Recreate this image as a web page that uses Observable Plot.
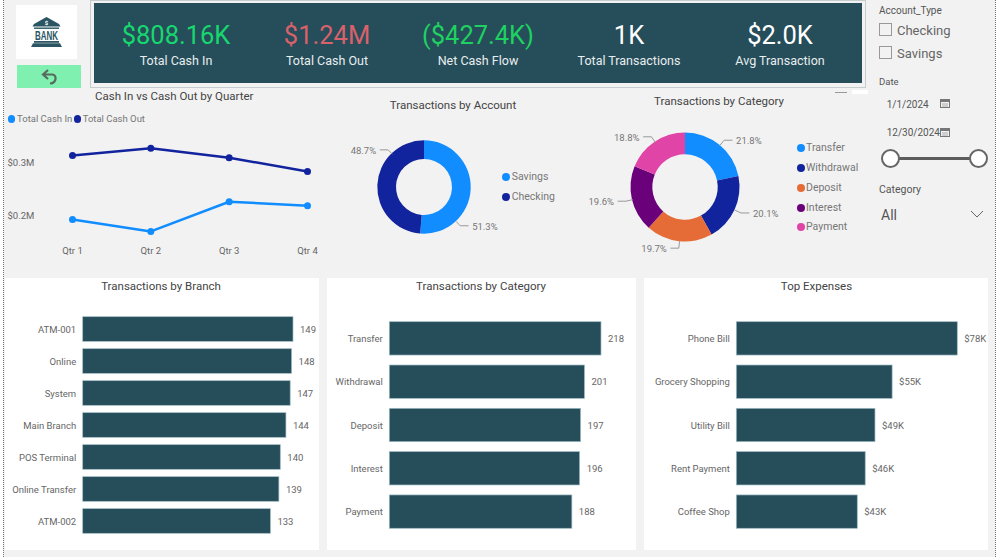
<!DOCTYPE html>
<html><head><meta charset="utf-8">
<script src="https://cdn.jsdelivr.net/npm/d3@7"></script>
<script src="https://cdn.jsdelivr.net/npm/@observablehq/plot@0.6"></script>
<style>
html,body{margin:0;padding:0;background:#fff;}
#page{position:relative;width:1000px;height:557px;overflow:hidden;font-family:Roboto,sans-serif;}
#bg{position:absolute;left:3px;top:0;width:993px;height:557px;background:#f2f2f2;border-left:1px dotted #777;border-right:1px dotted #777;box-sizing:border-box;}
.b{position:absolute;}
.t{position:absolute;white-space:nowrap;line-height:1;}
.p{position:absolute;}
.p svg{display:block;background:transparent;overflow:visible;}
</style></head><body><div id="page"><div id="bg"></div></div>
<script>
// ---- data ----
const kpiValues=["$808.16K","$1.24M","($427.4K)","1K","$2.0K"];
const kpiLabels=["Total Cash In","Total Cash Out","Net Cash Flow","Total Transactions","Avg Transaction"];
const kpiColors=["#17d86f","#d9616b","#1fd160","#ffffff","#ffffff"];
const quarters=["Qtr 1","Qtr 2","Qtr 3","Qtr 4"];
const cashIn=[0.1925,0.170,0.226,0.2185];
const cashOut=[0.313,0.327,0.309,0.283];
const accounts=["Savings","Checking"];
const accountShare=[51.3,48.7];
const accountColors=["#118DFF","#12239E"];
const categories=["Transfer","Withdrawal","Deposit","Interest","Payment"];
const categoryShare=[21.8,20.1,19.7,19.6,18.8];
const categoryColors=["#118DFF","#12239E","#E66C37","#6B007B","#E044A7"];
const branches=["ATM-001","Online","System","Main Branch","POS Terminal","Online Transfer","ATM-002"];
const branchCounts=[149,148,147,144,140,139,133];
const categoryCounts=[218,201,197,196,188];
const expenses=["Phone Bill","Grocery Shopping","Utility Bill","Rent Payment","Coffee Shop"];
const expenseValues=[78,55,48.95,45.5,42.7];

// ---- helpers ----
const FONT='Roboto,sans-serif';
const page=document.getElementById("page");
const BAR="#264d5a";
function box(x,y,w,h,style={}){const d=document.createElement("div");d.className="b";Object.assign(d.style,{left:x+"px",top:y+"px",width:w+"px",height:h+"px"},style);page.appendChild(d);return d;}
function text(x,y,s,size,color,anchor="start",extra={}){const d=document.createElement("div");d.className="t";d.textContent=s;
 const tx=anchor==="middle"?"-50%":anchor==="end"?"-100%":"0";
 Object.assign(d.style,{left:x+"px",top:y+"px",fontSize:size+"px",color,transform:`translate(${tx},-50%)`},extra);page.appendChild(d);return d;}
function place(x,y,node){const d=document.createElement("div");d.className="p";d.style.left=x+"px";d.style.top=y+"px";d.appendChild(node);page.appendChild(d);}
function svgBox(x,y,w,h,inner){const d=document.createElement("div");d.className="b";d.style.left=x+"px";d.style.top=y+"px";
 d.innerHTML=`<svg width="${w}" height="${h}" viewBox="0 0 ${w} ${h}" style="display:block;overflow:visible">${inner}</svg>`;page.appendChild(d);}

// ---- logo and back button ----
box(16,5,61,54,{background:"#fff"});
svgBox(16,5,61,54,`<g fill="#2b5563"><path d="M30.500 12 L43 19 L44.500 21.500 L16.500 21.500 L18 19Z"/><rect x="18" y="22.500" width="25" height="1.400"/><rect x="18" y="36" width="25" height="1.800"/><path d="M17 38.200h27l2 3.800h-31z"/></g>
<text x="30.500" y="35" text-anchor="middle" font-family="Liberation Sans Narrow, Liberation Sans, sans-serif" font-weight="700" font-size="13.500" textLength="23" lengthAdjust="spacingAndGlyphs" fill="#2b5563">BANK</text><text x="30.500" y="20" text-anchor="middle" font-size="6" font-weight="700" fill="#fff">$</text>`);
box(17,65,64,23,{background:"#7ff0b0"});
svgBox(17,65,64,23,`<path d="M31 5 L26 9.500 L31 14 M26.500 9.500 H35 Q39 10 38.500 14 Q38 18 33 18.500" fill="none" stroke="#566b5e" stroke-width="2.200"/>`);

// ---- KPI band ----
box(90,0,776,88,{border:"1px solid #c6cdcd",boxSizing:"border-box"});
box(94,3,768,80,{background:"#264d5a"});
const kpiCenters=[176,327,478,629,780];
kpiValues.forEach((v,i)=>{text(kpiCenters[i],36,v,25.5,kpiColors[i],"middle");text(kpiCenters[i],61,kpiLabels[i],12.5,"#e8eeef","middle");});
box(852,90,16,4,{background:"#fff"});
box(835,91.500,12,1,{background:"#999"});

// ---- titles ----
const TITLE="#444";
text(95,96.500,"Cash In vs Cash Out by Quarter",11.5,TITLE);
text(453,106,"Transactions by Account",11.5,TITLE,"middle");
text(719,101.500,"Transactions by Category",11.5,TITLE,"middle");

// ---- line chart ----
const lineRows=quarters.flatMap((q,i)=>[{q,v:cashIn[i],s:"Total Cash In"},{q,v:cashOut[i],s:"Total Cash Out"}]);
const seriesNames=["Total Cash In","Total Cash Out"];
place(0,130,Plot.plot({
 width:340,height:130,marginLeft:72,marginRight:33,marginTop:5.5,marginBottom:18.5,
 style:{fontFamily:FONT,fontSize:"9.5px",background:"transparent"},
 x:{type:"point",domain:quarters,padding:0,round:false,label:null},
 y:{domain:[0.15,0.35],label:null},
 color:{domain:seriesNames,range:accountColors},
 marks:[
  Plot.axisY({ticks:[0.2,0.3],tickFormat:d=>`$${d.toFixed(1)}M`,tickSize:0,tickPadding:65,textAnchor:"start",color:"#666",label:null}),
  Plot.axisX({tickSize:0,tickPadding:5,color:"#666",label:null}),
  Plot.line(lineRows,{x:"q",y:"v",z:"s",stroke:"s",strokeWidth:2.5}),
  Plot.dot(lineRows,{x:"q",y:"v",fill:"s",r:3.5})
 ]}));
[[11.7,17,seriesNames[0],accountColors[0]],[77.7,82.7,seriesNames[1],accountColors[1]]].forEach(([dx,tx,s,c])=>{
 box(dx-3.7,119-3.7,7.4,7.4,{background:c,borderRadius:"50%"});text(tx,119,s,9.5,"#777");});

// ---- donuts ----
function donut({cx,cy,R,r,halfW,halfH,names,shares,colors,angles}){
 const pie=d3.pie().sort(null).value(d=>d.share)(names.map((name,i)=>({name,share:shares[i]})));
 const slices=pie.map((a,i)=>{const mid=angles&&angles[i]!=null?angles[i]*Math.PI/180:(a.startAngle+a.endAngle)/2;
  const sx=Math.sin(mid),sy=Math.cos(mid),side=sx>=0?1:-1;
  return {...a,name:a.data.name,share:a.data.share,sx,sy,side,ex:sx*1.12,ey:sy*1.12,tx:sx*1.12+side*8/R};});
 const leaders=slices.flatMap(s=>[{id:s.name,x:s.sx,y:s.sy},{id:s.name,x:s.ex,y:s.ey},{id:s.name,x:s.tx,y:s.ey}]);
 place(cx-halfW,cy-halfH,Plot.plot({
  width:2*halfW,height:2*halfH,margin:0,
  style:{fontFamily:FONT,fontSize:"9.5px",background:"transparent"},
  x:{domain:[-halfW/R,halfW/R],axis:null},
  y:{domain:[-halfH/R,halfH/R],axis:null},
  color:{domain:names,range:colors},
  marks:[
   (index,scales)=>{
    const g=d3.create("svg:g").attr("transform",`translate(${scales.x(0)},${scales.y(0)})`);
    const px=scales.x(1)-scales.x(0);
    const arc=d3.arc().innerRadius(px*r/R).outerRadius(px);
    g.selectAll("path").data(slices).join("path").attr("d",arc).attr("fill",d=>scales.color(d.name));
    return g.node();
   },
   Plot.line(leaders,{x:"x",y:"y",z:"id",stroke:"#999",strokeWidth:1}),
   Plot.text(slices.filter(s=>s.side>0),{x:"tx",y:"ey",text:d=>d.share.toFixed(1)+"%",textAnchor:"start",dx:4,dy:1,fill:"#777"}),
   Plot.text(slices.filter(s=>s.side<0),{x:"tx",y:"ey",text:d=>d.share.toFixed(1)+"%",textAnchor:"end",dx:-4,dy:1,fill:"#777"})
  ]}));
}
donut({cx:424,cy:186.7,R:46.7,r:28,halfW:84,halfH:60,names:accounts,shares:accountShare,colors:accountColors,angles:[137,316]});
donut({cx:684.5,cy:186.7,R:54.5,r:32.7,halfW:100,halfH:70,names:categories,shares:categoryShare,colors:categoryColors});
const accLegendY=[177.3,197.3],catLegendY=[148,168,188,207.5,226.5];
accounts.forEach((n,i)=>{box(506-4,accLegendY[i]-4,8,8,{background:accountColors[i],borderRadius:"50%"});text(511.7,accLegendY[i],n,10.5,"#777");});
categories.forEach((n,i)=>{box(800.7-4,catLegendY[i]-4,8,8,{background:categoryColors[i],borderRadius:"50%"});text(806,catLegendY[i],n,10.5,"#777");});

// ---- slicers ----
const SL="#555";
text(879,10.5,"Account_Type",10,SL);
[["Checking",23.3,29.5],["Savings",46,52.5]].forEach(([s,y,ty])=>{box(879,y,13,12.5,{border:"1px solid #999",boxSizing:"border-box"});text(897,ty,s,13,"#666");});
text(879,82,"Date",9.5,SL);
text(886.7,104.5,"1/1/2024",10,SL);
text(886.7,132.5,"12/30/2024",10,SL);
[98,127].forEach(y=>svgBox(940,y,10,10,`<rect x=".5" y="1.500" width="9" height="8" fill="none" stroke="#777"/><rect x=".5" y="1.500" width="9" height="2.500" fill="#777"/><path d="M2 6h6M2 8h6" stroke="#999" stroke-width=".8"/>`));
box(890,156.5,89,3,{background:"#5c5c5c"});
[890.7,978.7].forEach(cx=>box(cx-9.5,148.5,19,19,{background:"#fff",border:"2px solid #666",borderRadius:"50%",boxSizing:"border-box"}));
text(879,190,"Category",10.5,SL);
text(881,215,"All",14,"#555");
svgBox(970,210,14,8,`<path d="M1 1 L7 7 L13 1" fill="none" stroke="#666" stroke-width="1"/>`);

// ---- bar cards ----
function barCard({x,w,title,titleX,names,values,barLeft,barRight,barTop,barBottom,inner,fmt}){
 const top=278,h=272;
 box(x,top,w,h,{background:"#fff"});
 text(titleX,287,title,11.5,TITLE,"middle");
 const rows=names.map((name,i)=>({name,value:values[i]}));
 place(x,top,Plot.plot({
  width:w,height:h,marginLeft:barLeft-x,marginRight:x+w-barRight,marginTop:barTop-top,marginBottom:top+h-barBottom,
  style:{fontFamily:FONT,fontSize:"9.5px",background:"transparent"},
  x:{domain:[0,d3.max(values)],axis:null},
  y:{type:"band",domain:names,paddingInner:inner,paddingOuter:0,round:false,label:null},
  marks:[
   Plot.axisY({tickSize:0,tickPadding:7,color:"#666",label:null}),
   Plot.barX(rows,{x:"value",y:"name",fill:BAR,stroke:"#9fbcc4",strokeWidth:0.7}),
   Plot.text(rows,{x:"value",y:"name",text:d=>fmt(d.value),textAnchor:"start",dx:6.5,fill:"#666"})
  ]}));
}
const plain=d=>String(d),kDollar=d=>`$${Math.round(d)}K`;
barCard({x:5,w:314,title:"Transactions by Branch",titleX:161,names:branches,values:branchCounts,barLeft:82.7,barRight:293,barTop:316.7,barBottom:533.3,inner:0.23,fmt:plain});
barCard({x:326.7,w:309.3,title:"Transactions by Category",titleX:481,names:categories,values:categoryCounts,barLeft:389,barRight:600.7,barTop:321.7,barBottom:528.3,inner:0.23,fmt:plain});
barCard({x:644,w:343.7,title:"Top Expenses",titleX:816.5,names:expenses,values:expenseValues,barLeft:736.3,barRight:957.3,barTop:321.7,barBottom:528.3,inner:0.23,fmt:kDollar});
</script></body></html>
